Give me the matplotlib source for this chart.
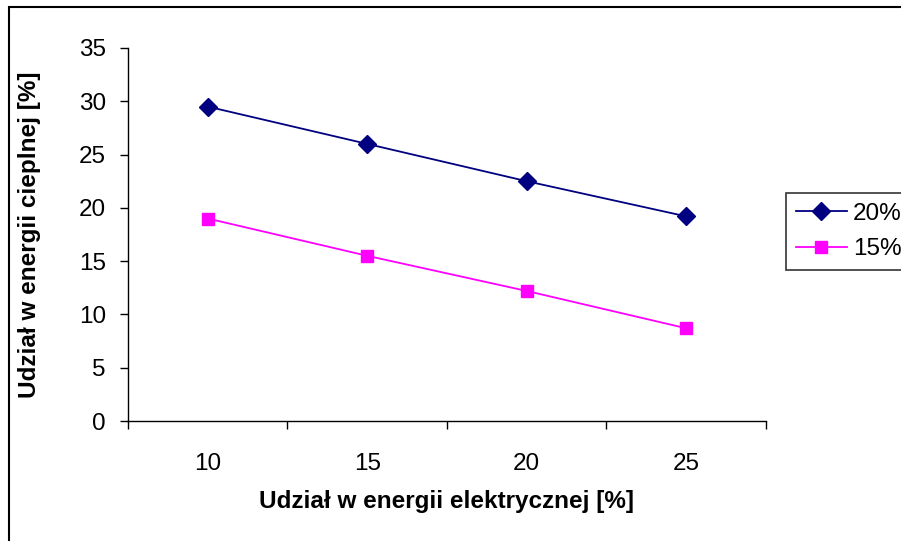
import numpy as np
import matplotlib
matplotlib.use("Agg")
import matplotlib.pyplot as plt
from matplotlib.patches import Rectangle

plt.rcParams['font.family'] = ['Liberation Sans', 'DejaVu Sans']

categories = ["10", "15", "20", "25"]
series_names = ["20%", "15%"]
values_20 = [29.5, 26.0, 22.5, 19.2]
values_15 = [19.0, 15.5, 12.2, 8.7]

W, H = 901, 541
fig = plt.figure(figsize=(W / 100, H / 100), dpi=100)
ax = fig.add_axes([128 / W, 1 - 421 / H, (766 - 128) / W, (421 - 48) / H])

x = np.arange(1, len(categories) + 1)
ax.plot(x, values_20, color="#000080", lw=1.3, marker="D", ms=9,
        mfc="#000080", mec="#000080", label=series_names[0], clip_on=False)
ax.plot(x, values_15, color="#FF00FF", lw=1.3, marker="s", ms=9,
        mfc="#FF00FF", mec="#FF00FF", label=series_names[1], clip_on=False)

ax.set_xlim(0.5, len(categories) + 0.5)
ax.set_ylim(0, 35)
ax.set_yticks(np.arange(0, 36, 5))
ax.set_xticks(np.arange(0.5, len(categories) + 1, 1))
ax.set_xticklabels([])
ax.set_xticks(x, minor=True)
ax.set_xticklabels(categories, minor=True)
ax.tick_params(axis="x", which="minor", length=0, pad=23, labelsize=17.5)
ax.tick_params(axis="x", which="major", direction="out", length=6, width=1)
ax.tick_params(axis="y", length=6, width=1, direction="out", labelsize=17.5, pad=10)
for s in ["top", "right"]:
    ax.spines[s].set_visible(False)
for s in ["left", "bottom"]:
    ax.spines[s].set_linewidth(1)

ax.set_xlabel("Udział w energii elektrycznej [%]", fontsize=17.5,
              fontweight="bold", labelpad=11)
ax.set_ylabel("Udział w energii cieplnej [%]", fontsize=17.5,
              fontweight="bold", labelpad=27)

leg = fig.legend(loc="upper left", bbox_to_anchor=(786 / W, 1 - 193 / H),
                 fontsize=17.5, frameon=True, fancybox=False,
                 edgecolor="black", handlelength=2.1, borderpad=0.4,
                 labelspacing=0.55, handletextpad=0.25, borderaxespad=0)
leg.get_frame().set_linewidth(1.2)

fig.patches.append(Rectangle((9 / W, -0.1), 1.2, 1 - 7 / H + 0.1,
                             transform=fig.transFigure, fill=False,
                             lw=1.5, edgecolor="black"))

fig.savefig("out.png", dpi=100)
